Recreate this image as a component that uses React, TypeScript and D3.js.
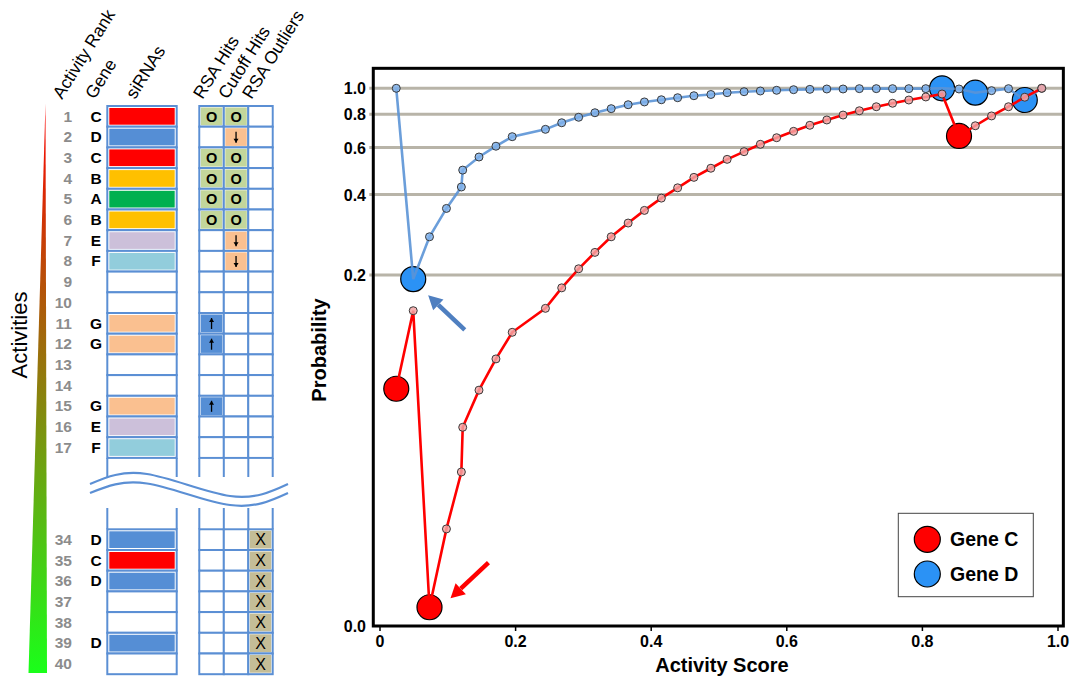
import React from "react";
import * as d3 from "d3";

// ---------- table data ----------
const headers = ["Activity Rank", "Gene", "siRNAs", "RSA Hits", "Cutoff Hits", "RSA Outliers"];
const upperRanks = [1, 2, 3, 4, 5, 6, 7, 8, 9, 10, 11, 12, 13, 14, 15, 16, 17];
const upperGenes = ["C", "D", "C", "B", "A", "B", "E", "F", "", "", "G", "G", "", "", "G", "E", "F"];
const upperRsaHits = ["O", "", "O", "O", "O", "O", "", "", "", "", "up", "up", "", "", "up", "", ""];
const upperCutoffHits = ["O", "down", "O", "O", "O", "O", "down", "down", "", "", "", "", "", "", "", "", ""];
const lowerRanks = [34, 35, 36, 37, 38, 39, 40];
const lowerGenes = ["D", "C", "D", "", "", "D", ""];
const lowerRsaOutliers = ["X", "X", "X", "X", "X", "X", "X"];

// ---------- chart data ----------
const activityScore = [
  0.024, 0.049, 0.073, 0.098, 0.12, 0.122, 0.146, 0.171, 0.195, 0.244,
  0.268, 0.293, 0.317, 0.341, 0.366, 0.39, 0.415, 0.439, 0.463, 0.488,
  0.512, 0.537, 0.561, 0.585, 0.61, 0.634, 0.659, 0.683, 0.707, 0.732,
  0.756, 0.78, 0.805, 0.829, 0.854, 0.878, 0.902, 0.927, 0.951, 0.976,
];
const geneCProb = [
  0.075, 0.147, 0.0114, 0.0224, 0.0366, 0.0538, 0.0741, 0.097, 0.122, 0.15,
  0.179, 0.211, 0.243, 0.278, 0.313, 0.349, 0.388, 0.424, 0.464, 0.502,
  0.542, 0.579, 0.617, 0.653, 0.69, 0.727, 0.761, 0.794, 0.824, 0.853,
  0.879, 0.904, 0.928, 0.952, 0.663, 0.724, 0.788, 0.853, 0.926, 1.0,
];
const geneDProb = [
  1.0, 0.193, 0.278, 0.355, 0.427, 0.494, 0.553, 0.607, 0.659, 0.702,
  0.743, 0.779, 0.81, 0.839, 0.868, 0.889, 0.906, 0.922, 0.938, 0.948,
  0.963, 0.971, 0.977, 0.983, 0.988, 0.991, 0.994, 0.994, 0.997, 0.997,
  0.997, 0.997, 0.997, 1.0, 0.994, 0.963, 0.98, 0.997, 0.904, 1.0,
];
const geneCMarked = [0, 2, 34];
const geneDMarked = [1, 33, 35, 38];
const yTicks = [1.0, 0.8, 0.6, 0.4, 0.2];
const xTicks = [0, 0.2, 0.4, 0.6, 0.8, 1.0];
const legendItems = ["Gene C", "Gene D"];

const FONT = "'Liberation Sans', Arial, Helvetica, sans-serif";
const LINE_BLUE = "#5b8fd4";
const geneColor: Record<string, string> = {
  A: "#00b050", B: "#ffc000", C: "#ff0000", D: "#558ed5",
  E: "#ccc0da", F: "#92cddc", G: "#fac090", "": "#ffffff",
};

function Arrow({ x1, y1, x2, y2, color }: any) {
  const ang = Math.atan2(y2 - y1, x2 - x1);
  const len = 14, hw = 7.5;
  const bx = x2 - len * Math.cos(ang), by = y2 - len * Math.sin(ang);
  const px = -Math.sin(ang) * hw, py = Math.cos(ang) * hw;
  return (
    <g>
      <line x1={x1} y1={y1} x2={bx} y2={by} stroke={color} strokeWidth={4.5} />
      <polygon points={`${x2},${y2} ${bx + px},${by + py} ${bx - px},${by - py}`} fill={color} />
    </g>
  );
}

function SmallArrow({ cx, top, up }: any) {
  const y1 = top + 5, y2 = top + 16;
  const tip = up ? y1 : y2;
  const d = up ? 4 : -4;
  return (
    <g>
      <line x1={cx} y1={y1} x2={cx} y2={y2} stroke="#000" strokeWidth={1.3} />
      <polygon points={`${cx},${tip} ${cx - 2.5},${tip + d} ${cx + 2.5},${tip + d}`} fill="#000" />
    </g>
  );
}

function Table() {
  const rowH = 20.7;
  const upperY = d3.scaleLinear().domain([1, 18]).range([106, 106 + 17 * rowH]);
  const lowerY = d3.scaleLinear().domain([34, 41]).range([529.3, 529.3 + 7 * rowH]);
  const sx0 = 107.3, sx1 = 176.7;
  const hitCols = [199.3, 223.8, 248.3, 272.7];
  const headerPos = [62, 94.5, 135, 202.5, 227.5, 251.5];

  const rows = [
    ...upperRanks.map((r, i) => ({ rank: r, y: upperY(r), gene: upperGenes[i], cells: [upperRsaHits[i], upperCutoffHits[i], ""] })),
    ...lowerRanks.map((r, i) => ({ rank: r, y: lowerY(r), gene: lowerGenes[i], cells: ["", "", lowerRsaOutliers[i]] })),
  ];

  const cellFill = (v: string) => {
    if (v === "O") return "#c3d69b";
    if (v === "down") return "#fac090";
    if (v === "up") return "#558ed5";
    if (v === "X") return "#c4bd97";
    return "#ffffff";
  };

  const upperBottom = upperY(18);
  const waveTop = d3.line().curve(d3.curveNatural)([[90, 484], [147, 474], [230, 496], [288, 484]]);
  const waveBot = d3.line().curve(d3.curveNatural)([[90, 493], [147, 483.5], [230, 505], [288, 493]]);
  const vlines = [sx0, sx1, ...hitCols];

  return (
    <g fontFamily={FONT}>
      <defs>
        <linearGradient id="actGrad" x1="0" y1="0" x2="0" y2="1">
          <stop offset="0%" stopColor="#ff0000" />
          <stop offset="100%" stopColor="#1aff1a" />
        </linearGradient>
      </defs>
      <polygon points="45.5,103 47,673 28.5,673" fill="url(#actGrad)" />
      <text transform="translate(26.5,335) rotate(-90)" textAnchor="middle" fontSize={22}>Activities</text>

      {headers.map((h, i) => (
        <text key={h} transform={`translate(${headerPos[i]},100) rotate(-58)`} fontSize={17.5}>{h}</text>
      ))}

      {/* stubs above / below the break */}
      {vlines.map((x, i) => (
        <g key={i}>
          <line x1={x} x2={x} y1={upperBottom} y2={477} stroke={LINE_BLUE} strokeWidth={2} />
          <line x1={x} x2={x} y1={508} y2={lowerY(34)} stroke={LINE_BLUE} strokeWidth={2} />
        </g>
      ))}
      <path d={waveTop || ""} fill="none" stroke={LINE_BLUE} strokeWidth={2.2} />
      <path d={waveBot || ""} fill="none" stroke={LINE_BLUE} strokeWidth={2.2} />

      {rows.map((r) => (
        <g key={r.rank}>
          <text x={72} y={r.y + 15.5} textAnchor="end" fontSize={15.5} fontWeight="bold" fill="#8c8c8c">{r.rank}</text>
          <text x={96} y={r.y + 15.5} textAnchor="middle" fontSize={15.5} fontWeight="bold" fill="#000">{r.gene}</text>
          <rect x={sx0} y={r.y} width={sx1 - sx0} height={rowH} fill="#fff" stroke={LINE_BLUE} strokeWidth={2} />
          <rect x={sx0 + 2} y={r.y + 2} width={sx1 - sx0 - 4} height={rowH - 4} fill={geneColor[r.gene]} />
          {r.cells.map((v, c) => {
            const x0 = hitCols[c], x1 = hitCols[c + 1];
            const cx = (x0 + x1) / 2;
            return (
              <g key={c}>
                <rect x={x0} y={r.y} width={x1 - x0} height={rowH} fill="#fff" stroke={LINE_BLUE} strokeWidth={2} />
                <rect x={x0 + 1.5} y={r.y + 1.5} width={x1 - x0 - 3} height={rowH - 3} fill={cellFill(v)} />
                {v === "O" && <text x={cx} y={r.y + 15.5} textAnchor="middle" fontSize={14.5} fontWeight="bold">O</text>}
                {v === "X" && <text x={cx} y={r.y + 16} textAnchor="middle" fontSize={16}>X</text>}
                {(v === "up" || v === "down") && <SmallArrow cx={cx} top={r.y} up={v === "up"} />}
              </g>
            );
          })}
        </g>
      ))}
    </g>
  );
}

function Chart() {
  const x = d3.scaleLinear().domain([0, 1]).range([380, 1058]);
  const y = d3.scaleLog().domain([0.0097, 1]).range([626, 88.3]);
  const left = x(-0.0099), right = x(1.0079), top = y(1.188), bottom = y(0.0097);
  const idx = d3.range(activityScore.length);
  const lineC = d3.line<number>().x((i) => x(activityScore[i])).y((i) => y(geneCProb[i]))(idx) || "";
  const lineD = d3.line<number>().x((i) => x(activityScore[i])).y((i) => y(geneDProb[i]))(idx) || "";
  const smallC = idx.filter((i) => !geneCMarked.includes(i));
  const smallD = idx.filter((i) => !geneDMarked.includes(i));

  return (
    <g fontFamily={FONT}>
      {yTicks.map((t) => (
        <line key={t} x1={left - 4} x2={right} y1={y(t)} y2={y(t)} stroke="#b8b4a8" strokeWidth={3} />
      ))}
      <rect x={left} y={top} width={right - left} height={bottom - top} fill="none" stroke="#000" strokeWidth={3} />
      {yTicks.map((t) => (
        <text key={t} x={366} y={y(t) + 6} textAnchor="end" fontSize={16} fontWeight="bold">{t.toFixed(1)}</text>
      ))}
      <text x={366} y={bottom + 6} textAnchor="end" fontSize={16} fontWeight="bold">0.0</text>
      {xTicks.map((t) => (
        <g key={t}>
          <line x1={x(t)} x2={x(t)} y1={bottom + 1} y2={bottom + 5} stroke="#000" strokeWidth={1.5} />
          <text x={x(t)} y={647} textAnchor="middle" fontSize={16} fontWeight="bold">{t === 0 ? "0" : t.toFixed(1)}</text>
        </g>
      ))}
      <text x={722} y={672} textAnchor="middle" fontSize={20} fontWeight="bold">Activity Score</text>
      <text transform="translate(326,350) rotate(-90)" textAnchor="middle" fontSize={20} fontWeight="bold">Probability</text>

      {geneCMarked.map((i) => (
        <circle key={"c" + i} cx={x(activityScore[i])} cy={y(geneCProb[i])} r={12.5} fill="#ff0000" stroke="#000" strokeWidth={1.2} />
      ))}
      {geneDMarked.map((i) => (
        <circle key={"d" + i} cx={x(activityScore[i])} cy={y(geneDProb[i])} r={12.5} fill="#2b92f5" stroke="#000" strokeWidth={1.2} />
      ))}
      <path d={lineD} fill="none" stroke="#5b93d6" strokeWidth={2.6} strokeOpacity={0.9} />
      <path d={lineC} fill="none" stroke="#ff0000" strokeWidth={2.6} />
      {smallD.map((i) => (
        <circle key={"sd" + i} cx={x(activityScore[i])} cy={y(geneDProb[i])} r={4} fill="#7fb0ea" fillOpacity={0.85} stroke="#3a3a3a" strokeWidth={1} />
      ))}
      {smallC.map((i) => (
        <circle key={"sc" + i} cx={x(activityScore[i])} cy={y(geneCProb[i])} r={4} fill="#f3a3a3" fillOpacity={0.85} stroke="#3a3a3a" strokeWidth={1} />
      ))}

      <Arrow x1={x(0.125)} y1={y(0.1246)} x2={x(0.071)} y2={y(0.168)} color="#4f7fc0" />
      <Arrow x1={x(0.16)} y1={y(0.01675)} x2={x(0.104)} y2={y(0.01232)} color="#ff0000" />

      <rect x={898.3} y={513.3} width={135} height={83.4} fill="#fff" stroke="#444" strokeWidth={1} />
      {legendItems.map((g, i) => (
        <g key={g}>
          <circle cx={927.3} cy={539.3 + i * 34.7} r={13} fill={i === 0 ? "#ff0000" : "#2b92f5"} stroke="#000" strokeWidth={1.2} />
          <text x={950} y={546 + i * 34.7} fontSize={19.5} fontWeight="bold">{g}</text>
        </g>
      ))}
    </g>
  );
}

export default function App() {
  return (
    <svg width={1073} height={677} style={{ position: "absolute", left: 0, top: 0, background: "#fff" }}>
      <Table />
      <Chart />
    </svg>
  );
}
